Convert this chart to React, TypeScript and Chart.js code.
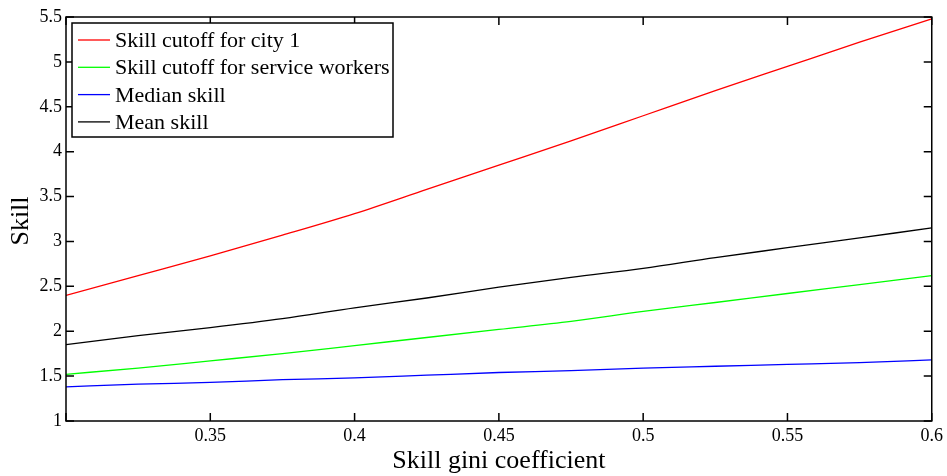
import React, { useEffect, useRef } from "react";
import { Chart, registerables } from "chart.js";

Chart.register(...registerables);

// gini coefficient sample points
const gini = [0.3, 0.325, 0.35, 0.375, 0.4, 0.425, 0.45, 0.475, 0.5, 0.525, 0.55, 0.575, 0.6];

const cutoffCity1 = [2.4, 2.62, 2.84, 3.07, 3.31, 3.58, 3.85, 4.12, 4.4, 4.68, 4.95, 5.22, 5.48];
const cutoffService = [1.52, 1.59, 1.67, 1.75, 1.84, 1.93, 2.02, 2.11, 2.22, 2.32, 2.42, 2.52, 2.62];
const medianSkill = [1.38, 1.41, 1.43, 1.46, 1.48, 1.51, 1.54, 1.56, 1.59, 1.61, 1.63, 1.65, 1.68];
const meanSkill = [1.85, 1.95, 2.04, 2.14, 2.26, 2.37, 2.49, 2.6, 2.7, 2.82, 2.93, 3.04, 3.15];

const seriesLabels = [
  "Skill cutoff for city 1",
  "Skill cutoff for service workers",
  "Median skill",
  "Mean skill",
];
const seriesColors = ["#ff0000", "#00ff00", "#0000ff", "#000000"];

const xTicks = [0.3, 0.35, 0.4, 0.45, 0.5, 0.55, 0.6];
const yTicks = [1, 1.5, 2, 2.5, 3, 3.5, 4, 4.5, 5, 5.5];

const SERIF = "'Liberation Serif', 'Times New Roman', serif";

const toPoints = (ys: number[]) => ys.map((y, i) => ({ x: gini[i], y }));

// box, inward ticks, axis titles and legend, matlab style
const framePlugin = {
  id: "frame",
  afterDraw(chart: any) {
    const { ctx, chartArea: a, scales } = chart;
    const tick = 8;
    ctx.save();
    ctx.strokeStyle = "#000";
    ctx.lineWidth = 1.5;
    ctx.strokeRect(a.left, a.top, a.right - a.left, a.bottom - a.top);
    ctx.beginPath();
    yTicks.forEach((v) => {
      const y = scales.y.getPixelForValue(v);
      ctx.moveTo(a.left, y);
      ctx.lineTo(a.left + tick, y);
      ctx.moveTo(a.right, y);
      ctx.lineTo(a.right - tick, y);
    });
    xTicks.forEach((v) => {
      const x = scales.x.getPixelForValue(v);
      ctx.moveTo(x, a.bottom);
      ctx.lineTo(x, a.bottom - tick);
      ctx.moveTo(x, a.top);
      ctx.lineTo(x, a.top + tick);
    });
    ctx.stroke();

    // axis titles
    ctx.fillStyle = "#000";
    ctx.font = `26px ${SERIF}`;
    ctx.textAlign = "center";
    ctx.textBaseline = "alphabetic";
    ctx.fillText("Skill gini coefficient", (a.left + a.right) / 2, 468);
    ctx.translate(28, (a.top + a.bottom) / 2 + 2);
    ctx.rotate(-Math.PI / 2);
    ctx.fillText("Skill", 0, 0);
    ctx.restore();

    // legend
    ctx.save();
    const lx = 72, ly = 23, lw = 321, lh = 114;
    ctx.fillStyle = "#fff";
    ctx.fillRect(lx, ly, lw, lh);
    ctx.strokeStyle = "#000";
    ctx.lineWidth = 1.5;
    ctx.strokeRect(lx, ly, lw, lh);
    ctx.font = `22px ${SERIF}`;
    ctx.textAlign = "left";
    ctx.textBaseline = "alphabetic";
    chart.data.datasets.forEach((ds: any, i: number) => {
      const rowY = 40 + i * 27.3;
      ctx.strokeStyle = ds.borderColor;
      ctx.lineWidth = 1.3;
      ctx.beginPath();
      ctx.moveTo(78, rowY);
      ctx.lineTo(110, rowY);
      ctx.stroke();
      ctx.fillStyle = "#000";
      ctx.fillText(ds.label, 115, rowY + 7);
    });
    ctx.restore();
  },
};

export default function App() {
  const canvasRef = useRef<HTMLCanvasElement | null>(null);

  useEffect(() => {
    if (!canvasRef.current) return;
    const data = [cutoffCity1, cutoffService, medianSkill, meanSkill];
    const chart = new Chart(canvasRef.current, {
      type: "line",
      data: {
        datasets: data.map((ys, i) => ({
          label: seriesLabels[i],
          data: toPoints(ys),
          borderColor: seriesColors[i],
          backgroundColor: seriesColors[i],
          borderWidth: 1.3,
          pointRadius: 0,
          cubicInterpolationMode: "monotone" as const,
        })),
      },
      options: {
        animation: false,
        responsive: true,
        maintainAspectRatio: false,
        layout: { padding: { top: 17, right: 14, left: 0, bottom: 0 } },
        plugins: {
          legend: { display: false },
          tooltip: { enabled: false },
        },
        scales: {
          x: {
            type: "linear",
            min: 0.3,
            max: 0.6,
            afterFit: (s: any) => {
              s.height = 55;
            },
            afterBuildTicks: (s: any) => {
              s.ticks = xTicks.map((v) => ({ value: v }));
            },
            ticks: {
              color: "#000",
              font: { family: SERIF, size: 18 },
              padding: 4,
              maxRotation: 0,
              autoSkip: false,
              callback: (v: any) => (Math.abs(v - 0.3) < 1e-9 ? "" : String(Number(Number(v).toFixed(2)))),
            },
            grid: { display: false, drawTicks: false },
            border: { display: false },
          },
          y: {
            min: 1,
            max: 5.5,
            afterFit: (s: any) => {
              s.width = 66;
            },
            afterBuildTicks: (s: any) => {
              s.ticks = yTicks.map((v) => ({ value: v }));
            },
            ticks: {
              color: "#000",
              font: { family: SERIF, size: 18 },
              padding: 4,
              autoSkip: false,
              callback: (v: any) => String(Number(Number(v).toFixed(2))),
            },
            grid: { display: false, drawTicks: false },
            border: { display: false },
          },
        },
      },
      plugins: [framePlugin],
    });
    return () => chart.destroy();
  }, []);

  return (
    <div style={{ position: "fixed", left: 0, top: 0, width: 947, height: 476, background: "#fff" }}>
      <canvas ref={canvasRef} />
    </div>
  );
}
